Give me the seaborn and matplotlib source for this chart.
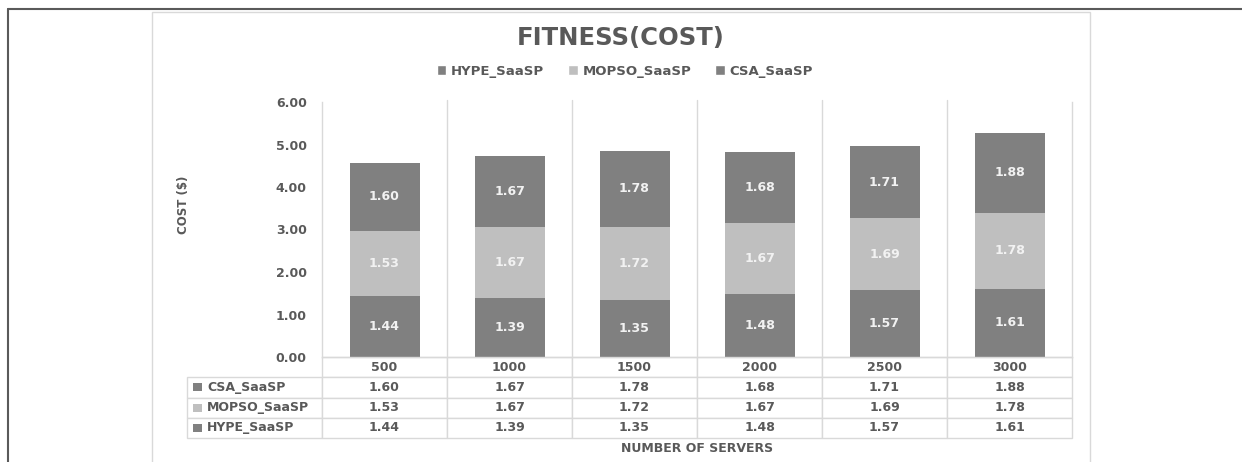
import matplotlib
matplotlib.use("Agg")
import matplotlib.pyplot as plt
from matplotlib.patches import Patch, Rectangle
from matplotlib.lines import Line2D
import seaborn as sns

servers = ["500", "1000", "1500", "2000", "2500", "3000"]
hype = [1.44, 1.39, 1.35, 1.48, 1.57, 1.61]
mopso = [1.53, 1.67, 1.72, 1.67, 1.69, 1.78]
csa = [1.60, 1.67, 1.78, 1.68, 1.71, 1.88]
series_names = ["HYPE_SaaSP", "MOPSO_SaaSP", "CSA_SaaSP"]

dark = "#808080"
light = "#bfbfbf"
txt = "#595959"
grid = "#d9d9d9"

sns.set_style("white")
plt.rcParams["font.family"] = ["DejaVu Sans"]
FS = 9

W, H = 1242, 462
PW = 125 * len(servers)  # plot width in px
fig = plt.figure(figsize=(W / 100, H / 100), dpi=100)
ax = fig.add_axes([322 / W, 1 - 357 / H, PW / W, 255 / H])

# stacked bars: draw cumulative totals, top layer first
low_mid = [h + m for h, m in zip(hype, mopso)]
total = [lm + c for lm, c in zip(low_mid, csa)]
for vals, col in [(total, dark), (low_mid, light), (hype, dark)]:
    sns.barplot(x=servers, y=vals, order=servers, color=col, saturation=1,
                width=0.56, ax=ax, edgecolor="none")

# segment labels
for i in range(len(servers)):
    for base, v in [(0, hype[i]), (hype[i], mopso[i]), (low_mid[i], csa[i])]:
        ax.text(i, base + v / 2, f"{v:.2f}", ha="center", va="center",
                color="#f2f2f2", fontsize=FS, fontweight="bold")

ax.set_xlim(-0.5, len(servers) - 0.5)
ax.set_ylim(0, 6)
ax.set_yticks([0, 1, 2, 3, 4, 5, 6])
ax.set_yticklabels([f"{t:.2f}" for t in range(7)])
ax.tick_params(axis="y", length=6, color=grid, labelsize=FS, labelcolor=txt, pad=5)
for lab in ax.get_yticklabels():
    lab.set_fontweight("bold")
ax.set_xticks([])
for x in range(len(servers) - 1):
    ax.axvline(x + 0.5, ymax=1.008, color=grid, lw=1, zorder=0, clip_on=False)
for s in ["left", "right", "bottom"]:
    ax.spines[s].set_color(grid)
    ax.spines[s].set_linewidth(1)
ax.spines["top"].set_visible(False)

ax.set_ylabel("COST ($)", fontsize=8.5, fontweight="bold", color=txt,
              family=["Liberation Sans Narrow", "DejaVu Sans"])
ax.yaxis.set_label_coords((190 - 322) / PW, 0.595)
ax.set_xlabel("NUMBER OF SERVERS", fontsize=FS, fontweight="bold", color=txt)
ax.xaxis.set_label_coords(0.5, -(448 - 357) / 255)
ax.xaxis.label.set_va("center")

# data table under the plot (first column holds the series names)
rows = [("CSA_SaaSP", csa, dark), ("MOPSO_SaaSP", mopso, light), ("HYPE_SaaSP", hype, dark)]
cell_text = [[""] + servers] + [[""] + [f"{v:.2f}" for v in vals] for _, vals, _ in rows]
TW = 135 + PW
tbl = ax.table(cellText=cell_text, cellLoc="center",
               colWidths=[135 / TW] + [125 / TW] * len(servers),
               bbox=[-135 / PW, -81 / 255, TW / PW, 81 / 255])
tbl.auto_set_font_size(False)
tbl.set_fontsize(FS)
for (r, c), cell in tbl.get_celld().items():
    cell.set_edgecolor(grid)
    cell.set_linewidth(1)
    cell.get_text().set_color(txt)
    cell.get_text().set_fontweight("bold")
    if r == 0 and c == 0:
        cell.set_visible(False)
row_h = 81 / 255 / 4
for k, (name, _, col) in enumerate(rows):
    yk = -row_h * (k + 1.5)
    ax.add_patch(Rectangle(((193 - 322) / PW, yk - 4 / 255), 9 / PW, 8 / 255,
                           facecolor=col, edgecolor="none", transform=ax.transAxes,
                           clip_on=False))
    ax.text((207 - 322) / PW, yk, name, color=txt, fontsize=FS,
            fontweight="bold", va="center", ha="left", transform=ax.transAxes)

# title and legend
fig.text(0.5, 1 - 38 / H, "FITNESS(COST)", ha="center", va="center",
         fontsize=17.5, fontweight="bold", color=txt)
handles = [Patch(facecolor=c) for c in [dark, light, dark]]
fig.legend(handles, series_names, loc="center", bbox_to_anchor=(0.503, 1 - 71 / H),
           ncol=3, frameon=False, handlelength=0.75, handleheight=0.75,
           handletextpad=0.35, columnspacing=1.8, labelcolor=txt,
           prop={"weight": "bold", "size": 9.5})

# frames
fig.add_artist(Rectangle((152 / W, -0.1), (1090 - 152) / W, 1 - 12 / H + 0.1,
                         fill=False, edgecolor=grid, lw=1, transform=fig.transFigure))
fig.add_artist(Line2D([8 / W, 1], [1 - 9 / H] * 2, color="#5a5a5a", lw=1.5,
                      transform=fig.transFigure))
fig.add_artist(Line2D([8 / W] * 2, [1 - 9 / H, 0], color="#5a5a5a", lw=1.5,
                      transform=fig.transFigure))

fig.savefig("out.png", dpi=100)
